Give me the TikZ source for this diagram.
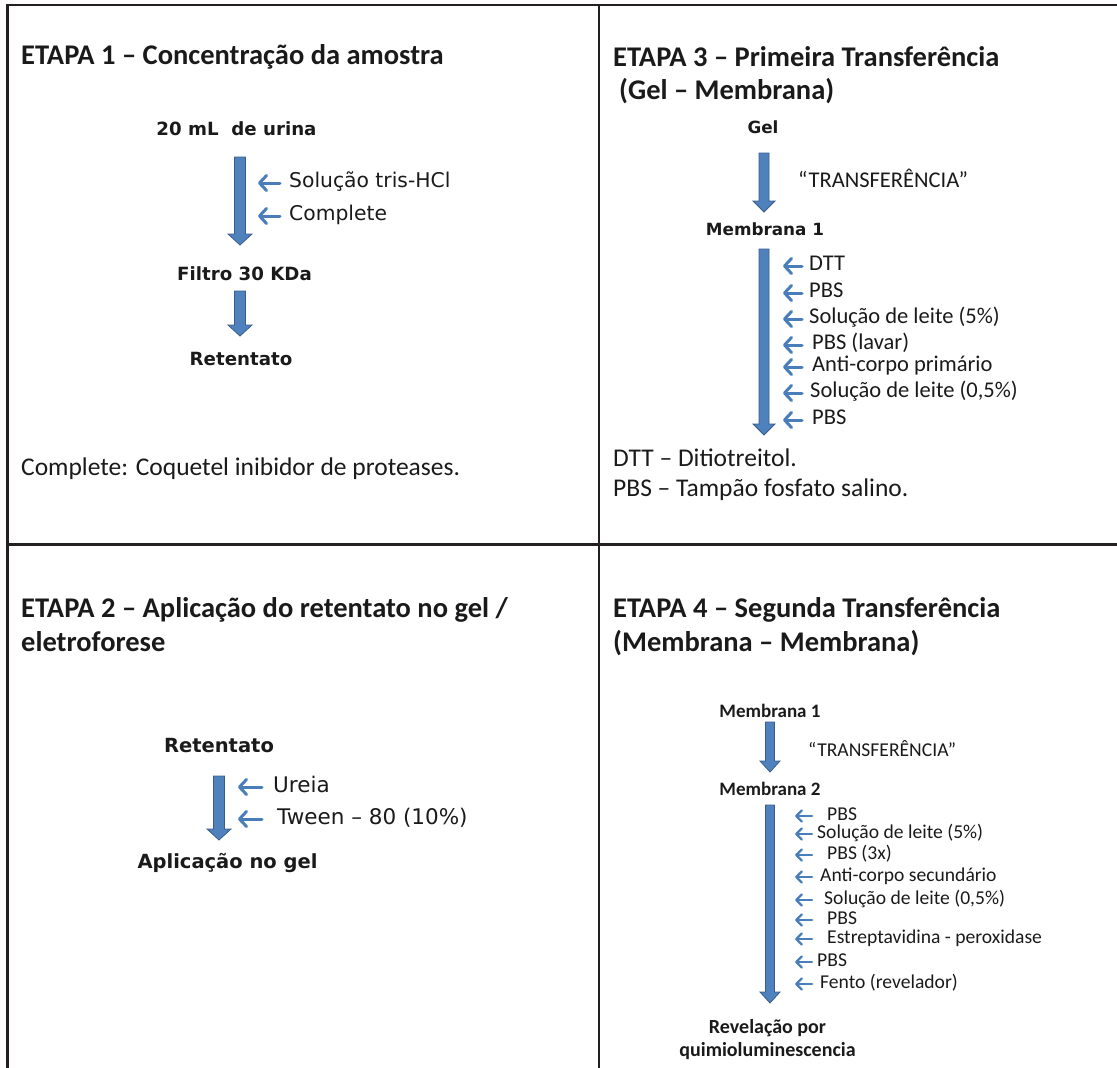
\documentclass[tikz,border=0pt]{standalone}
\usepackage{fontspec}
\setmainfont{Carlito}
\newfontfamily\verd{DejaVu Sans}
\usetikzlibrary{arrows.meta,calc}
\definecolor{bfill}{HTML}{4F81BD}
\definecolor{bline}{HTML}{385D8A}
\definecolor{sarr}{HTML}{4A7EBB}
\definecolor{frame}{HTML}{231F20}
\definecolor{ink}{HTML}{1A1A1A}
\newcommand\bigarrow[4]{% top, tip, half shaft, half head
  \filldraw[fill=bfill,draw=bline,line width=0.8pt,line join=miter]
  let \p1=(#1), \p2=(#2) in
  (\x1-#3,\y1) -- (\x1+#3,\y1) -- (\x1+#3,\y2+11pt) -- (\x1+#4,\y2+11pt) -- (\x2,\y2)
  -- (\x1-#4,\y2+11pt) -- (\x1-#3,\y2+11pt) -- cycle;}
\tikzset{
  base/.style={inner sep=0pt, text depth=0pt, text=ink},
  ttl/.style={base, font=\fontsize{28.5}{32}\selectfont\bfseries, anchor=west, text height=18.4pt},
  foot/.style={base, font=\fontsize{25.5}{30}\selectfont, anchor=west, text height=16.4pt},
  vb/.style={base, font=\verd\bfseries\fontsize{#1}{#1}\selectfont, text height=0.73*#1 pt},
  vr/.style={base, font=\verd\fontsize{#1}{#1}\selectfont, anchor=west, text height=0.73*#1 pt},
  cr/.style={base, font=\fontsize{22.5}{26}\selectfont, anchor=west, text height=14.5pt},
  cb/.style={base, font=\fontsize{19}{22}\selectfont\bfseries, text height=12.2pt},
  cbr/.style={base, font=\fontsize{20}{23}\selectfont\bfseries, text height=12.8pt},
  cs/.style={base, font=\fontsize{19.6}{23}\selectfont, anchor=west, text height=12.6pt},
  sa/.style={draw=sarr, line width=3pt, line cap=round, -{Straight Barb[length=7pt,width=15pt,line width=3pt,round]}},
  sa4/.style={draw=sarr, line width=2.4pt, line cap=round, -{Straight Barb[length=5.5pt,width=11pt,line width=2.4pt,round]}},
  frm/.style={draw=frame, line width=2.2pt},
}
\begin{document}
\begin{tikzpicture}[x=1pt,y=1pt]
\useasboundingbox (0,0) rectangle (1117,-1068);
% frame
\coordinate (tl) at (7.5,-5);
\coordinate (tr) at (1117,-5);
\coordinate (bl) at (7.5,-1068);
\coordinate (vt) at (599,-5);
\coordinate (vb) at (599,-1068);
\coordinate (hl) at (7.5,-544.5);
\coordinate (hr) at (1117,-544.5);
\draw[frm] (bl) -- (tl) -- (tr);
\draw[frm] (vt) -- (vb);
\draw[frm] (hl) -- (hr);

% ---------------- ETAPA 1
\node[ttl] (t1) at (21,-55) {ETAPA 1 – Concentração da amostra};
\node[vb=18.2] (n20) at (236.5,-129) {20 mL\ \ de urina};
\node[vb=18.2] (fil) at (244.5,-274) {Filtro 30 KDa};
\node[vb=18.2] (ret1) at (241,-359) {Retentato};
\node[vr=20.3] (tris) at (289,-180) {Solução tris-HCl};
\node[vr=20.3] (comp) at (289,-213) {Complete};
\node[foot] (f1) at (21,-467) {Complete: Coquetel inibidor de proteases.};
\coordinate (a1s) at (240,-157);
\coordinate (a1e) at (240,-245);
\coordinate (a2s) at (240,-291);
\coordinate (a2e) at (240,-336);
\bigarrow{a1s}{a1e}{5.5pt}{12pt}
\bigarrow{a2s}{a2e}{5.5pt}{12pt}
\coordinate (c1a) at (280,0);
\coordinate (c1b) at (258,0);
\draw[sa] ([yshift=-3pt]tris.west -| c1a) -- ([yshift=-3pt]tris.west -| c1b);
\draw[sa] ([yshift=-3pt]comp.west -| c1a) -- ([yshift=-3pt]comp.west -| c1b);

% ---------------- ETAPA 2
\node[ttl] (t2a) at (21,-608) {ETAPA 2 – Aplicação do retentato no gel /};
\node[ttl] (t2b) at (21,-642) {eletroforese};
\node[vb=19.5] (ret2) at (219,-745) {Retentato};
\node[vb=19.5] (apl) at (227.5,-861) {Aplicação no gel};
\node[vr=21.5] (ure) at (273,-785) {Ureia};
\node[vr=21.5] (twe) at (277,-817) {Tween – 80 (10\%)};
\coordinate (b1s) at (219,-776);
\coordinate (b1e) at (219,-840);
\bigarrow{b1s}{b1e}{5.5pt}{12pt}
\coordinate (c2a) at (262,0);
\coordinate (c2b) at (238,0);
\draw[sa] ([yshift=-2pt]ure.west -| c2a) -- ([yshift=-2pt]ure.west -| c2b);
\draw[sa] ([yshift=-2pt]twe.west -| c2a) -- ([yshift=-2pt]twe.west -| c2b);

% ---------------- ETAPA 3
\node[ttl] (t3a) at (613,-57) {ETAPA 3 – Primeira Transferência};
\node[ttl] (t3b) at (619,-90) {(Gel – Membrana)};
\node[vb=16.8] (gel) at (763,-127) {Gel};
\node[cr] (tr3) at (798,-180) {“TRANSFERÊNCIA”};
\node[vb=16.8] (m31) at (765,-229) {Membrana 1};
\coordinate (g1s) at (764,-153);
\coordinate (g1e) at (764,-212);
\coordinate (g2s) at (764,-249);
\coordinate (g2e) at (764,-435);
\bigarrow{g1s}{g1e}{5pt}{11pt}
\bigarrow{g2s}{g2e}{5pt}{11pt}
\node[cr] (l31) at (809,-263) {DTT};
\node[cr] (l32) at (809,-290) {PBS};
\node[cr] (l33) at (809,-316) {Solução de leite (5\%)};
\node[cr] (l34) at (812,-342) {PBS (lavar)};
\node[cr] (l35) at (812,-364) {Anti-corpo primário};
\node[cr] (l36) at (810,-390) {Solução de leite (0,5\%)};
\node[cr] (l37) at (812,-417) {PBS};
\coordinate (c3a) at (802,0);
\coordinate (c3b) at (783,0);
\foreach \n in {l31,l32,l33,l34,l35,l36,l37}
  \draw[sa] ([yshift=-3pt]\n.west -| c3a) -- ([yshift=-3pt]\n.west -| c3b);
\node[foot] (f3a) at (613,-458) {DTT – Ditiotreitol.};
\node[foot] (f3b) at (613,-488) {PBS – Tampão fosfato salino.};

% ---------------- ETAPA 4
\node[ttl] (t4a) at (613,-608) {ETAPA 4 – Segunda Transferência};
\node[ttl] (t4b) at (613,-642) {(Membrana – Membrana)};
\node[cb] (m41) at (770,-711) {Membrana 1};
\node[cs] (tr4) at (808,-750) {“TRANSFERÊNCIA”};
\node[cb] (m42) at (770,-789) {Membrana 2};
\coordinate (h1s) at (770,-722);
\coordinate (h1e) at (770,-772);
\coordinate (h2s) at (770,-805);
\coordinate (h2e) at (770,-1003);
\bigarrow{h1s}{h1e}{4.5pt}{10pt}
\bigarrow{h2s}{h2e}{4.5pt}{10pt}
\node[cs] (l41) at (827,-814) {PBS};
\node[cs] (l42) at (817,-832) {Solução de leite (5\%)};
\node[cs] (l43) at (827,-853) {PBS (3x)};
\node[cs] (l44) at (820,-875) {Anti-corpo secundário};
\node[cs] (l45) at (824,-898) {Solução de leite (0,5\%)};
\node[cs] (l46) at (827,-918) {PBS};
\node[cs] (l47) at (827,-937) {Estreptavidina - peroxidase};
\node[cs] (l48) at (817,-960) {PBS};
\node[cs] (l49) at (820,-982) {Fento (revelador)};
\coordinate (c4a) at (812,0);
\coordinate (c4b) at (795,0);
\foreach \n in {l41,l42,l43,l44,l45,l46,l47,l48,l49}
  \draw[sa4] ([yshift=-2pt]\n.west -| c4a) -- ([yshift=-2pt]\n.west -| c4b);
\node[cbr] (rev1) at (767.5,-1027) {Revelação por};
\node[cbr] (rev2) at (767.5,-1050) {quimioluminescencia};
\end{tikzpicture}
\end{document}
